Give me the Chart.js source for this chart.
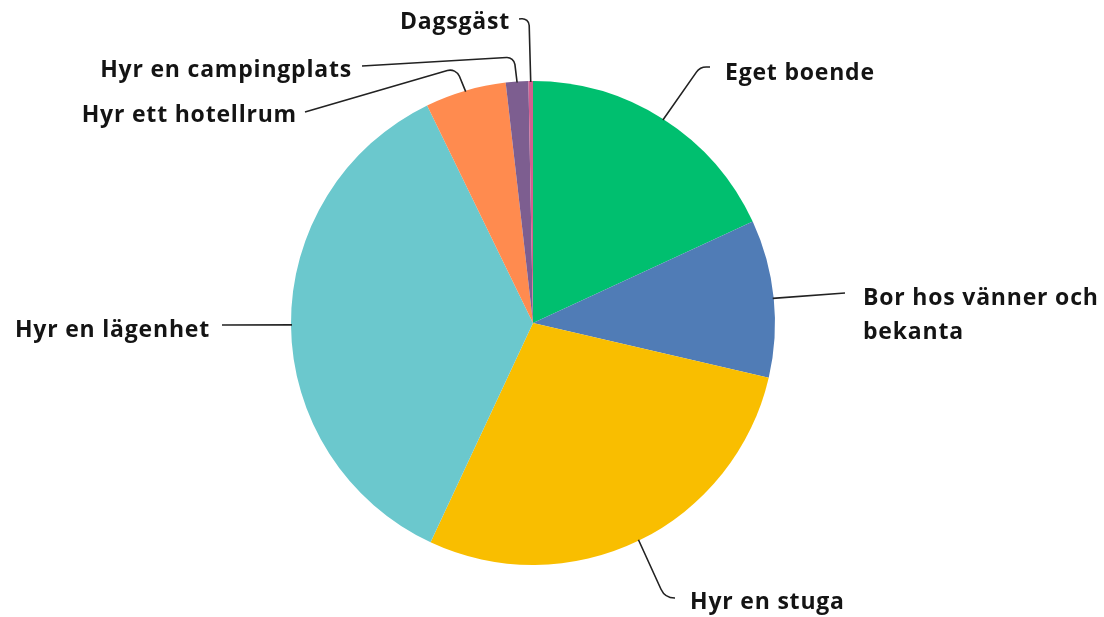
<!DOCTYPE html>
<html>
<head>
<meta charset="utf-8">
<script src="https://cdn.jsdelivr.net/npm/chart.js@4"></script>
<style>
  html, body { margin: 0; padding: 0; background: #fff; }
  #wrap { width: 1104px; height: 617px; position: relative; }
</style>
</head>
<body>
<div id="wrap"><canvas id="pie"></canvas></div>
<script>
const categories = ['Eget boende', 'Bor hos vänner och bekanta', 'Hyr en stuga', 'Hyr en lägenhet', 'Hyr ett hotellrum', 'Hyr en campingplats', 'Dagsgäst'];
const shares = [18.1, 10.5, 28.3, 35.8, 5.4, 1.5, 0.3];
const colors = ['#00bf6f', '#507cb6', '#f9be00', '#6bc8cd', '#ff8b4f', '#7d5e90', '#d25f90'];

// label placement, offsets from the pie centre (px)
const labelLayout = [
  { lines: ['Eget boende'], tx: 192, ty: -250, align: 'left', corner: [167, -256], end: [177, -256], r: 12 },
  { lines: ['Bor hos vänner och', 'bekanta'], tx: 330, ty: -25, align: 'left', corner: null, end: [312, -30] },
  { lines: ['Hyr en stuga'], tx: 157, ty: 279, align: 'left', corner: [132, 275], end: [142, 275], r: 15 },
  { lines: ['Hyr en lägenhet'], tx: -323, ty: 7, align: 'right', corner: null, end: [-311, 2] },
  { lines: ['Hyr ett hotellrum'], tx: -236, ty: -208, align: 'right', corner: [-77, -255], end: [-228, -211], r: 10 },
  { lines: ['Hyr en campingplats'], tx: -181, ty: -253, align: 'right', corner: [-19, -266], end: [-171, -257], r: 8 },
  { lines: ['Dagsgäst'], tx: -23, ty: -301, align: 'right', corner: [-4, -305], end: [-14, -304], r: 7 }
];

const leaderLabels = {
  id: 'leaderLabels',
  afterDatasetsDraw(chart) {
    const ctx = chart.ctx;
    const arcs = chart.getDatasetMeta(0).data;
    ctx.save();
    arcs.forEach((arc, i) => {
      const lay = labelLayout[i];
      const p = arc.getProps(['x', 'y', 'startAngle', 'endAngle', 'outerRadius'], true);
      const mid = (p.startAngle + p.endAngle) / 2;
      const sx = p.x + Math.cos(mid) * (p.outerRadius - 1);
      const sy = p.y + Math.sin(mid) * (p.outerRadius - 1);
      ctx.strokeStyle = '#222';
      ctx.lineWidth = 1.6;
      ctx.beginPath();
      ctx.moveTo(sx, sy);
      if (lay.corner) {
        ctx.arcTo(p.x + lay.corner[0], p.y + lay.corner[1], p.x + lay.end[0], p.y + lay.end[1], lay.r);
      }
      ctx.lineTo(p.x + lay.end[0], p.y + lay.end[1]);
      ctx.stroke();

      ctx.fillStyle = '#141414';
      ctx.font = '700 23px "Open Sans", sans-serif';
      ctx.letterSpacing = '0.8px';
      ctx.textAlign = lay.align;
      ctx.textBaseline = 'middle';
      lay.lines.forEach((ln, k) => {
        ctx.fillText(ln, p.x + lay.tx, p.y + lay.ty + k * 34);
      });
    });
    ctx.restore();
  }
};

new Chart(document.getElementById('pie'), {
  type: 'pie',
  data: {
    labels: categories,
    datasets: [{
      data: shares,
      backgroundColor: colors,
      borderWidth: 0
    }]
  },
  options: {
    responsive: true,
    maintainAspectRatio: false,
    animation: false,
    layout: { padding: { top: 81, bottom: 52, left: 0, right: 38 } },
    plugins: {
      legend: { display: false },
      tooltip: { enabled: false }
    }
  },
  plugins: [leaderLabels]
});
</script>
</body>
</html>
